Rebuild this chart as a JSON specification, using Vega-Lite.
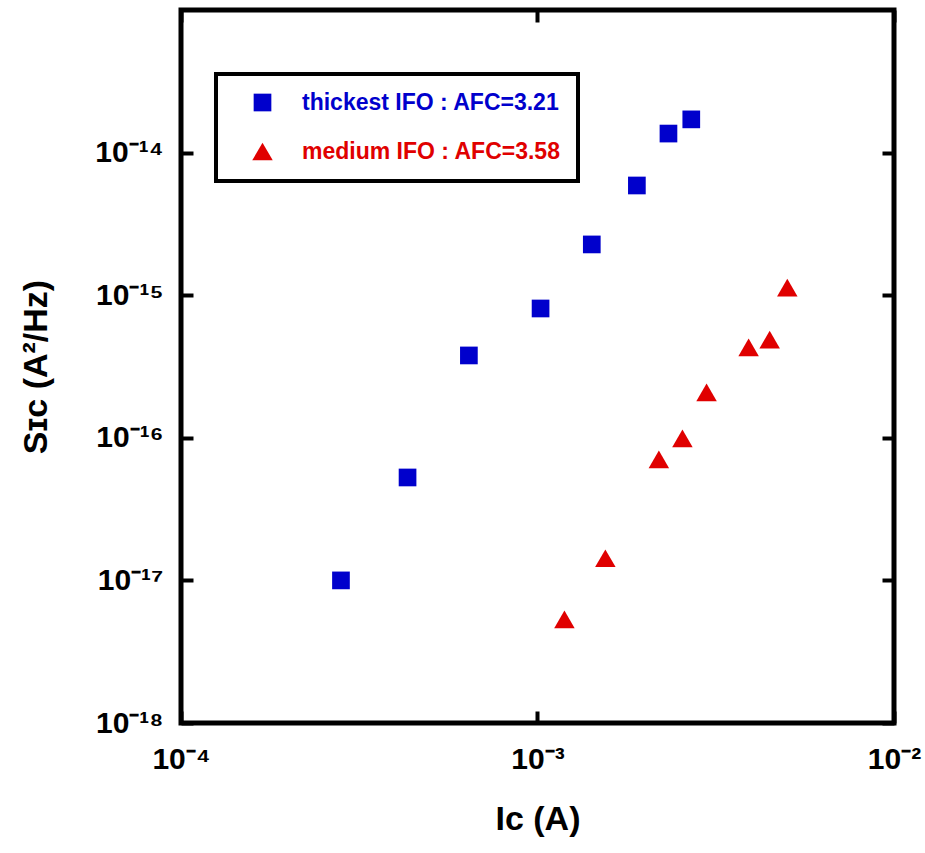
{
  "$schema": "https://vega.github.io/schema/vega-lite/v6.json",
  "width": 713,
  "height": 713,
  "autosize": {"type": "none"},
  "padding": {"left": 181, "top": 10, "right": 31, "bottom": 130},
  "background": "white",
  "config": {
    "font": "Liberation Sans",
    "view": {"stroke": "black", "strokeWidth": 5},
    "axis": {
      "domain": false,
      "grid": false,
      "ticks": true,
      "tickSize": -12,
      "tickWidth": 4,
      "tickColor": "black",
      "labelFlush": false,
      "labelFont": "Liberation Sans",
      "labelFontWeight": "bold",
      "labelFontSize": 30,
      "labelColor": "black",
      "titleFont": "Liberation Sans",
      "titleFontWeight": "bold",
      "titleFontSize": 34,
      "titleColor": "black"
    }
  },
  "data": {
    "values": [
      {"series": "thickest IFO : AFC=3.21", "ic": 2.81e-4, "sic": 1.0e-17},
      {"series": "thickest IFO : AFC=3.21", "ic": 4.32e-4, "sic": 5.27e-17},
      {"series": "thickest IFO : AFC=3.21", "ic": 6.42e-4, "sic": 3.78e-16},
      {"series": "thickest IFO : AFC=3.21", "ic": 1.02e-3, "sic": 8.07e-16},
      {"series": "thickest IFO : AFC=3.21", "ic": 1.42e-3, "sic": 2.27e-15},
      {"series": "thickest IFO : AFC=3.21", "ic": 1.90e-3, "sic": 5.88e-15},
      {"series": "thickest IFO : AFC=3.21", "ic": 2.33e-3, "sic": 1.36e-14},
      {"series": "thickest IFO : AFC=3.21", "ic": 2.70e-3, "sic": 1.71e-14},
      {"series": "medium IFO : AFC=3.58", "ic": 1.19e-3, "sic": 5.32e-18},
      {"series": "medium IFO : AFC=3.58", "ic": 1.55e-3, "sic": 1.43e-17},
      {"series": "medium IFO : AFC=3.58", "ic": 2.19e-3, "sic": 7.05e-17},
      {"series": "medium IFO : AFC=3.58", "ic": 2.55e-3, "sic": 9.9e-17},
      {"series": "medium IFO : AFC=3.58", "ic": 2.98e-3, "sic": 2.08e-16},
      {"series": "medium IFO : AFC=3.58", "ic": 3.91e-3, "sic": 4.30e-16},
      {"series": "medium IFO : AFC=3.58", "ic": 4.48e-3, "sic": 4.89e-16},
      {"series": "medium IFO : AFC=3.58", "ic": 5.02e-3, "sic": 1.13e-15}
    ]
  },
  "resolve": {"axis": {"x": "independent", "y": "independent"}},
  "layer": [
    {
      "mark": {"type": "point", "filled": true, "opacity": 1},
      "encoding": {
        "x": {
          "field": "ic", "type": "quantitative",
          "scale": {"type": "log", "domain": [1e-4, 1e-2], "nice": false},
          "axis": {
            "orient": "bottom",
            "values": [1e-4, 1e-3, 1e-2],
            "labelPadding": 33,
            "labelExpr": "'10⁻' + replace(replace(replace(replace(replace(replace(replace(replace(replace('' + abs(round(log(datum.value)/LN10)), '1', '¹'), '2', '²'), '3', '³'), '4', '⁴'), '5', '⁵'), '6', '⁶'), '7', '⁷'), '8', '⁸'), '0', '⁰')",
            "title": "Iᴄ (A)",
            "titlePadding": 28
          }
        },
        "y": {
          "field": "sic", "type": "quantitative",
          "scale": {"type": "log", "domain": [1e-18, 1e-13], "nice": false},
          "axis": {
            "orient": "left",
            "values": [1e-18, 1e-17, 1e-16, 1e-15, 1e-14],
            "labelPadding": 30,
            "labelExpr": "'10⁻' + replace(replace(replace(replace(replace(replace(replace(replace(replace('' + abs(round(log(datum.value)/LN10)), '1', '¹'), '2', '²'), '3', '³'), '4', '⁴'), '5', '⁵'), '6', '⁶'), '7', '⁷'), '8', '⁸'), '0', '⁰')",
            "title": "Sɪᴄ (A²/Hz)",
            "titlePadding": 41
          }
        },
        "color": {
          "field": "series", "type": "nominal",
          "scale": {"domain": ["thickest IFO : AFC=3.21", "medium IFO : AFC=3.58"], "range": ["#0000cc", "#e00000"]},
          "legend": {
            "orient": "none",
            "legendX": 35,
            "legendY": 64,
            "title": null,
            "padding": 17,
            "symbolOffset": 18,
            "labelOffset": 28,
            "rowPadding": 25,
            "labelFont": "Liberation Sans",
            "labelFontSize": 23,
            "labelFontWeight": "bold",
            "labelLimit": 400,
            "symbolSize": 340,
            "symbolOpacity": 1,
            "symbolStrokeWidth": 0,
            "strokeColor": "black",
            "fillColor": "white",
            "encode": {
              "legend": {"update": {"strokeWidth": {"value": 4}}},
              "labels": {"update": {"fill": {"signal": "datum.value === 'thickest IFO : AFC=3.21' ? '#0000cc' : '#e00000'"}}}
            }
          }
        },
        "shape": {
          "field": "series", "type": "nominal",
          "scale": {"domain": ["thickest IFO : AFC=3.21", "medium IFO : AFC=3.58"], "range": ["square", "triangle-up"]}
        },
        "size": {
          "field": "series", "type": "nominal",
          "scale": {"domain": ["thickest IFO : AFC=3.21", "medium IFO : AFC=3.58"], "range": [313, 420]},
          "legend": null
        }
      }
    },
    {
      "mark": {"type": "point", "opacity": 0},
      "encoding": {
        "x": {
          "field": "ic", "type": "quantitative",
          "axis": {"orient": "top", "values": [1e-4, 1e-3, 1e-2], "labels": false, "title": null}
        },
        "y": {
          "field": "sic", "type": "quantitative",
          "axis": {"orient": "right", "values": [1e-18, 1e-17, 1e-16, 1e-15, 1e-14], "labels": false, "title": null}
        }
      }
    }
  ]
}
